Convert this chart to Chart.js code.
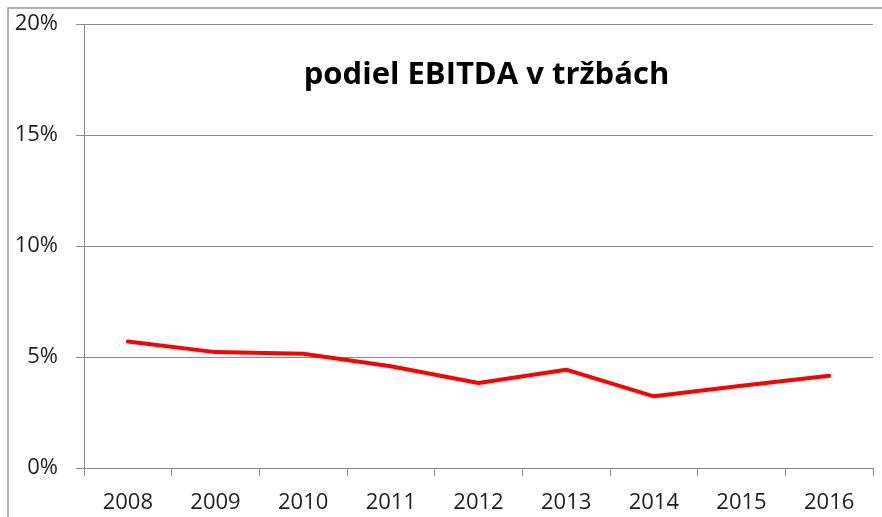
<!DOCTYPE html>
<html>
<head>
<meta charset="utf-8">
<script src="https://cdn.jsdelivr.net/npm/chart.js@4.4.0/dist/chart.umd.min.js"></script>
<style>
    html, body { margin: 0; padding: 0; background: #fff; }
    #wrap { width: 882px; height: 517px; position: relative; }
</style>
</head>
<body>
<div id="wrap"><canvas id="chart"></canvas></div>
<script>
// EBITDA share of revenue by year (%)
const years = ['2008', '2009', '2010', '2011', '2012', '2013', '2014', '2015', '2016'];
const ebitdaShare = [5.7, 5.22, 5.15, 4.58, 3.83, 4.43, 3.23, 3.7, 4.16];
const yTicks = [0, 5, 10, 15, 20];

const titleText = 'podiel EBITDA v tržbách';
const axisGray = '#8a8a8a';
const textColor = '#1e1e1e';

// frame around the chart and the title inside the plot area
const framePlugin = {
    id: 'frame',
    beforeDraw(chart) {
        const ctx = chart.ctx;
        ctx.save();
        ctx.strokeStyle = '#9a9a9a';
        ctx.lineWidth = 1.5;
        ctx.beginPath();
        ctx.moveTo(8, chart.height);
        ctx.lineTo(8, 8);
        ctx.lineTo(chart.width, 8);
        ctx.stroke();
        ctx.restore();
    },
    afterDraw(chart) {
        const { ctx, chartArea } = chart;
        ctx.save();
        ctx.font = 'bold 31px "Open Sans"';
        ctx.fillStyle = '#000';
        ctx.textAlign = 'center';
        ctx.textBaseline = 'middle';
        ctx.fillText(titleText, (chartArea.left + chartArea.right) / 2 + 8, chartArea.top + 51);
        ctx.restore();
    }
};

new Chart(document.getElementById('chart'), {
    type: 'line',
    data: {
        labels: years,
        datasets: [{
            data: ebitdaShare,
            borderColor: '#ff0000',
            borderWidth: 4,
            pointRadius: 0,
            tension: 0,
            borderJoinStyle: 'round',
            borderCapStyle: 'round'
        }]
    },
    options: {
        responsive: true,
        maintainAspectRatio: false,
        animation: false,
        layout: { padding: { top: 24, right: 9, left: 0, bottom: 0 } },
        plugins: {
            legend: { display: false },
            tooltip: { enabled: false }
        },
        scales: {
            x: {
                offset: true,
                afterFit(scale) { scale.height = 49; },
                grid: {
                    offset: true,
                    drawOnChartArea: false,
                    color: axisGray,
                    tickLength: 8
                },
                border: { color: axisGray, width: 1 },
                ticks: {
                    color: textColor,
                    font: { family: 'Open Sans', size: 22 },
                    padding: 14,
                    maxRotation: 0,
                    autoSkip: false
                }
            },
            y: {
                min: 0,
                max: 20,
                afterFit(scale) {
                    scale.width = 84;
                    scale.paddingTop = 0;
                    scale.paddingBottom = 0;
                },
                afterBuildTicks(scale) { scale.ticks = yTicks.map(v => ({ value: v })); },
                grid: { color: axisGray, tickLength: 8 },
                border: { color: axisGray, width: 1 },
                ticks: {
                    color: textColor,
                    font: { family: 'Open Sans', size: 22 },
                    padding: 18,
                    callback: v => v + '%'
                }
            }
        }
    },
    plugins: [framePlugin]
});
</script>
</body>
</html>
